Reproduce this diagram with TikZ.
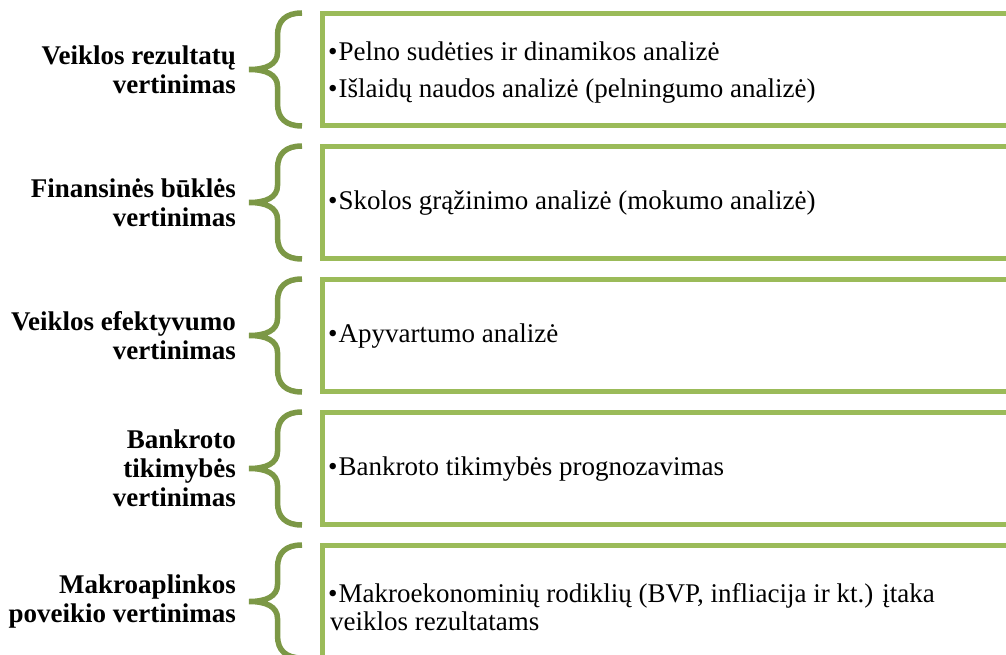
\documentclass[tikz,border=0pt]{standalone}
\usepackage{fontspec}
\setmainfont{Liberation Serif}[
  UprightFont = * ,
  BoldFont = * Bold ]
\newfontfamily\labelfont{Liberation Serif Bold}
\definecolor{boxgreen}{RGB}{155,187,89}
\definecolor{bracegreen}{RGB}{124,152,70}
\begin{document}
\begin{tikzpicture}[x=1pt,y=-1pt,
  framebox/.style={draw=boxgreen,line width=5pt},
  curlybrace/.style={draw=bracegreen,line width=5.5pt},
  catlabel/.style={anchor=east,align=right,inner sep=0pt,
    font=\labelfont\fontsize{27}{29}\selectfont},
  itemtext/.style={anchor=base west,inner sep=0pt,
    font=\fontsize{27}{29}\selectfont}]
\useasboundingbox (0,0) rectangle (1006,655);
\clip (0,0) rectangle (1006,655);

% frames and braces, one per row
\foreach \k in {0,...,4}{
  \pgfmathsetmacro{\c}{69.5+133*\k}
  \draw[framebox] (322.5,\c-56) rectangle (1030,\c+56);
  \draw[curlybrace] (302,\c-56.5)
     .. controls (286,\c-56.5) and (277.5,\c-49) .. (277.5,\c-34)
     -- (277.5,\c-17)
     .. controls (277.5,\c-5) and (266,\c) .. (249,\c)
     .. controls (266,\c) and (277.5,\c+5) .. (277.5,\c+17)
     -- (277.5,\c+34)
     .. controls (277.5,\c+49) and (286,\c+56.5) .. (302,\c+56.5);
}

% category labels
\node[catlabel] (lbl1) at (236,69.5)  {Veiklos rezultatų\\vertinimas};
\node[catlabel] (lbl2) at (236,202.5) {Finansinės būklės\\vertinimas};
\node[catlabel] (lbl3) at (236,335.5) {Veiklos efektyvumo\\vertinimas};
\node[catlabel] (lbl4) at (236,468.5) {Bankroto\\tikimybės\\vertinimas};
\node[catlabel] (lbl5) at (236,601.5) {Makroaplinkos\\poveikio vertinimas};

% bullet items
\node[itemtext] (it1a) at (328,61)  {\textbullet\hspace{1pt}Pelno sudėties ir dinamikos analizė};
\node[itemtext] (it1b) at (328,98)  {\textbullet\hspace{1pt}Išlaidų naudos analizė (pelningumo analizė)};
\node[itemtext] (it2)  at (328,209) {\textbullet\hspace{1pt}Skolos grąžinimo analizė (mokumo analizė)};
\node[itemtext] (it3)  at (328,342) {\textbullet\hspace{1pt}Apyvartumo analizė};
\node[itemtext] (it4)  at (328,475) {\textbullet\hspace{1pt}Bankroto tikimybės prognozavimas};
\node[itemtext] (it5a) at (328,602) {\textbullet\hspace{1pt}Makroekonominių rodiklių (BVP, infliacija ir kt.) įtaka};
\node[itemtext] (it5b) at (330,630) {veiklos rezultatams};
\end{tikzpicture}
\end{document}
